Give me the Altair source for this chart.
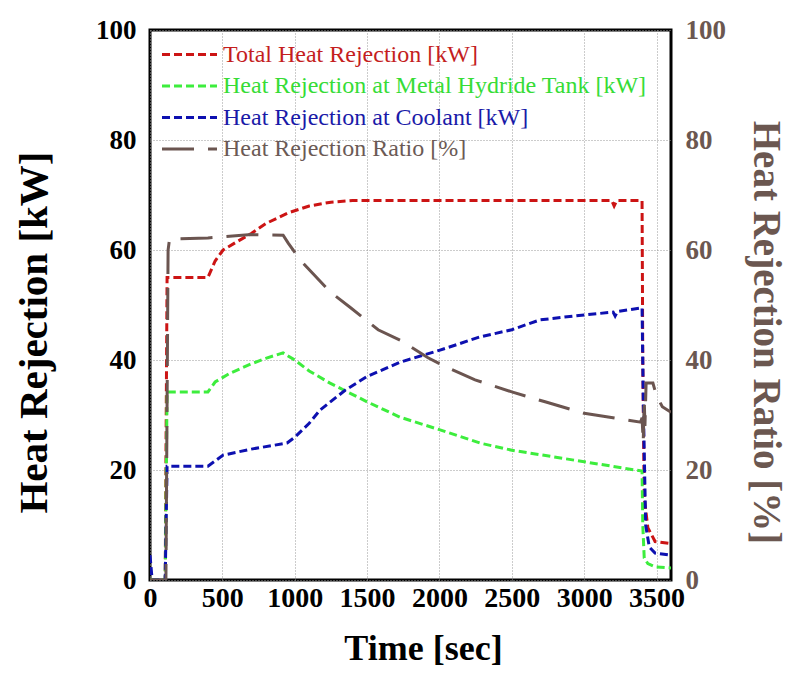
import altair as alt
import pandas as pd

series_names = [
    "Total Heat Rejection [kW]",
    "Heat Rejection at Metal Hydride Tank [kW]",
    "Heat Rejection at Coolant [kW]",
    "Heat Rejection Ratio [%]",
]
line_colors = ["#cc1414", "#3ded3d", "#0d10b0", "#6b5550"]
label_colors = ["#c41e1e", "#36dc36", "#1a1aa8", "#6b5a55"]
dash_styles = [[8, 4], [8, 4], [8, 4], [32, 14]]

x_ticks = [0, 500, 1000, 1500, 2000, 2500, 3000, 3500]
y_ticks = [0, 20, 40, 60, 80, 100]

total_t = [0, 105, 118, 400, 450, 505, 600, 700, 800, 950, 1100, 1250, 1400,
           3190, 3207, 3225, 3400, 3405, 3415, 3440, 3490, 3600]
total_v = [0, 0, 55, 55, 58, 60, 61.5, 63, 64.8, 66.7, 68, 68.7, 69,
           69, 68, 69, 69, 40, 15, 9.5, 7, 6.6]

mh_t = [0, 105, 118, 400, 450, 553, 700, 800, 919, 1000, 1100, 1244, 1500,
        1728, 2004, 2280, 2500, 3000, 3400, 3405, 3415, 3440, 3490, 3600]
mh_v = [0, 0, 34.2, 34.2, 36, 37.6, 39.3, 40.3, 41.3, 40, 38, 35.8, 32.4,
        29.6, 27.3, 24.9, 23.6, 21.5, 19.8, 10, 4, 3, 2.4, 2.2]

cool_t = [0, 15, 105, 118, 400, 505, 700, 947, 1002, 1100, 1175, 1348, 1500,
          1728, 2004, 2280, 2500, 2695, 3000, 3200, 3214, 3230, 3400, 3410,
          3425, 3450, 3490, 3600]
cool_v = [4.5, 0, 0, 20.7, 20.7, 22.7, 23.8, 24.9, 26, 28.5, 30.9, 34.5, 37,
          39.6, 41.8, 44.2, 45.5, 47.3, 48.2, 48.7, 48, 48.8, 49.5, 30,
          10, 6, 4.9, 4.5]

ratio_t = [0, 110, 125, 135, 400, 700, 920, 954, 1037, 1244, 1382, 1576, 1728,
           1921, 2039, 2246, 2500, 2730, 3000, 3248, 3390, 3400, 3408, 3415,
           3420, 3428, 3475, 3500, 3540, 3600]
ratio_v = [0, 0, 60, 62, 62.2, 62.8, 62.7, 61.3, 58.2, 52.4, 49.6, 45.5, 43.6,
           40.4, 38.8, 36.4, 34.2, 32.4, 30.3, 29.3, 28.7, 29.5, 25, 33,
           28, 35.8, 35.8, 33.5, 31.5, 30.5]

frames = []
for name, ts, vs in [(series_names[0], total_t, total_v),
                     (series_names[1], mh_t, mh_v),
                     (series_names[2], cool_t, cool_v)]:
    frames.append(pd.DataFrame({"t": ts, "v": vs, "series": name}))
df_kw = pd.concat(frames, ignore_index=True)
df_ratio = pd.DataFrame({"t": ratio_t, "v": ratio_v, "series": series_names[3]})

label_expr = " : ".join(
    [f"datum.value == '{n}' ? '{c}'" for n, c in zip(series_names[:-1], label_colors[:-1])]
) + f" : '{label_colors[-1]}'"

legend = alt.Legend(
    title=None,
    orient="none",
    legendX=24,
    legendY=9,
    symbolType="M-2,0H2",
    symbolSize=756,
    symbolStrokeWidth=3,
    labelFont="Liberation Serif",
    labelFontSize=24,
    labelLimit=600,
    labelOffset=18,
    rowPadding=3.5,
    labelColor=alt.ExprRef(label_expr),
)

color = alt.Color("series:N", scale=alt.Scale(domain=series_names, range=line_colors), legend=legend)
dash = alt.StrokeDash("series:N", scale=alt.Scale(domain=series_names, range=dash_styles), legend=legend)

x_enc = alt.X(
    "t:Q",
    scale=alt.Scale(domain=[0, 3600], nice=False),
    axis=alt.Axis(
        values=x_ticks, format="d", title="Time [sec]", labelFontSize=28,
        labelPadding=4, labelOverlap=False, labelFlush=False,
        titleFontSize=36, titleX=273, titleY=68, titleBaseline="middle",
        grid=True, gridDash=[1, 2], gridColor="#999999",
    ),
)

left = alt.Chart(df_kw).mark_line(strokeWidth=3, clip=True).encode(
    x=x_enc,
    y=alt.Y(
        "v:Q",
        scale=alt.Scale(domain=[0, 100], nice=False),
        axis=alt.Axis(
            values=y_ticks, title="Heat Rejection [kW]", labelFontSize=27,
            labelPadding=14, titleFontSize=41, titleX=-116, titleY=302,
            titleBaseline="middle", grid=True, gridDash=[1, 2], gridColor="#999999",
        ),
    ),
    color=color,
    strokeDash=dash,
    detail="series:N",
)

right = alt.Chart(df_ratio).mark_line(strokeWidth=3, clip=True).encode(
    x=x_enc,
    y=alt.Y(
        "v:Q",
        scale=alt.Scale(domain=[0, 100], nice=False),
        axis=alt.Axis(
            orient="right", values=y_ticks, title="Heat Rejection Ratio [%]",
            labelFontSize=27, labelPadding=14, labelColor="#6b5750",
            titleColor="#6b5750", titleFontSize=39, titleAngle=90,
            titleX=94, titleY=302, titleBaseline="middle", grid=False,
        ),
    ),
    color=color,
    strokeDash=dash,
)

chart = (
    alt.layer(left, right)
    .resolve_scale(y="independent")
    .properties(
        width=521,
        height=550,
        autosize=alt.AutoSizeParams(type="none"),
        padding={"left": 150, "top": 30, "right": 118, "bottom": 94},
        background="white",
    )
    .configure_view(stroke="black", strokeWidth=3)
    .configure_axis(
        domain=False,
        ticks=False,
        labelFont="Liberation Serif",
        labelFontWeight="bold",
        labelColor="black",
        titleFont="Liberation Serif",
        titleFontWeight="bold",
        titleColor="black",
    )
)

chart.save("out.html", embed_options={"renderer": "svg", "actions": False})
